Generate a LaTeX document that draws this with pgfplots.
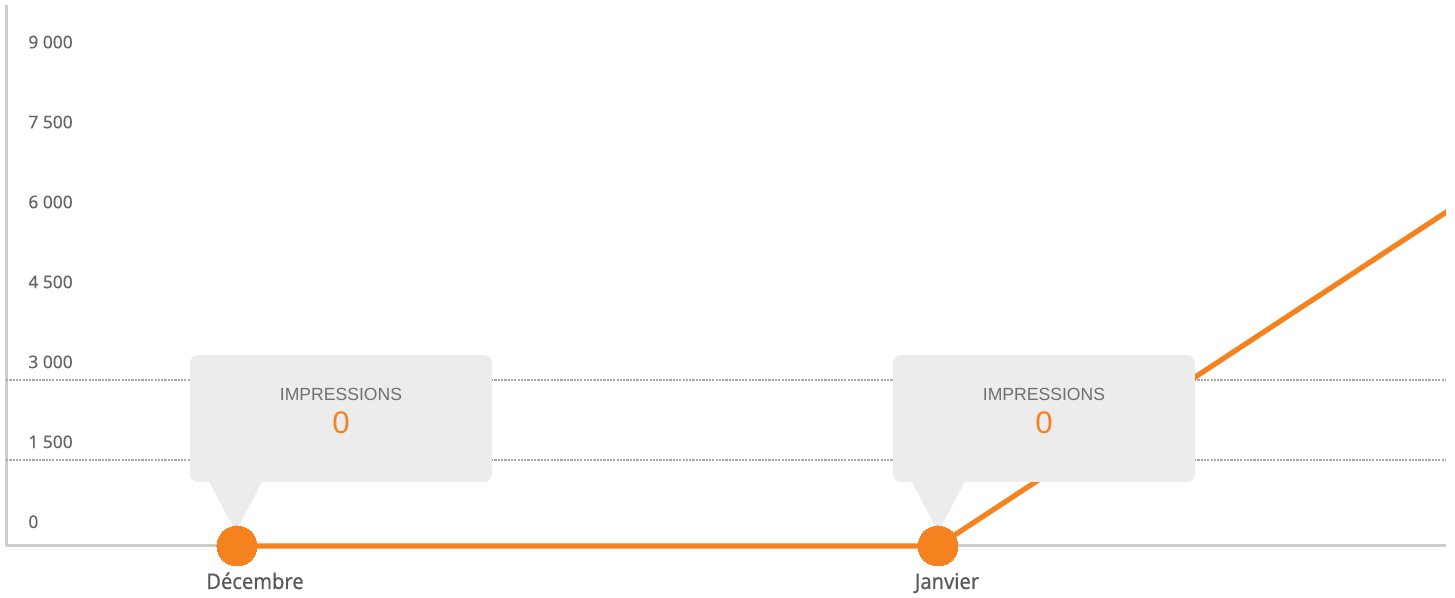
\documentclass[border=0pt]{standalone}
\usepackage{fontspec}
\setmainfont{Noto Sans}
\newfontfamily\arialfont{Liberation Sans}
\newfontfamily\labfont[FakeBold=0.5, FakeStretch=0.93]{Noto Sans}
\newfontfamily\tickfont[FakeBold=0.2]{Noto Sans}
\usepackage{pgfplots}
\pgfplotsset{compat=1.18}
\definecolor{orangeline}{HTML}{F5821F}
\definecolor{axisgray}{HTML}{CCCCCC}
\definecolor{gridgray}{HTML}{A8A8A8}
\definecolor{tipfill}{HTML}{ECECEC}
\definecolor{ticktext}{HTML}{666666}
\definecolor{labeltext}{HTML}{5A5A5A}
\definecolor{tiptext}{HTML}{707070}
\begin{document}
\begin{tikzpicture}
\useasboundingbox (-3pt,-26pt) rectangle (724.5pt,273pt);
\clip (-3pt,-26pt) rectangle (720pt,273pt);
\begin{axis}[
  at={(0,0)}, anchor=south west,
  scale only axis, width=720pt, height=270.5pt,
  xmin=-0.3295, xmax=1.7247,
  ymin=0, ymax=10150,
  clip=false,
  axis x line*=bottom, axis y line*=left,
  axis line style={axisgray, line width=1.5pt, -},
  major tick length=0pt,
  xtick={0,1}, xticklabels={\hspace*{18pt}Décembre,\hspace*{9pt}Janvier},
  xticklabel style={font=\labfont\fontsize{10.8}{12}\selectfont, text=labeltext, anchor=base, inner sep=0pt, yshift=-21.5pt},
  ytick={0,1500,3000,4500,6000,7500,9000},
  scaled y ticks=false,
  yticklabel style={font=\tickfont\fontsize{8.7}{10}\selectfont, text=ticktext, anchor=base west, inner sep=0pt, xshift=11pt, yshift=9pt},
  /pgf/number format/1000 sep={\ },
  /pgf/number format/assume math mode=true,
  extra y ticks={1500,3000},
  extra y tick labels={},
  extra y tick style={grid=major, major grid style={gridgray, line width=1pt, dash pattern=on 1.1pt off 0.55pt, yshift=3pt}},
]
\addplot[orangeline, line width=2.6pt, mark=*, mark size=10pt,
  mark options={fill=orangeline, draw=none, line width=0pt}, mark indices={1,2}]
  coordinates {(0,0) (1,0) (2,8640)};

% tooltips
\fill[tipfill, rounded corners=4pt, shift={(axis cs:0,0)}] (-23.5pt,32pt) rectangle (127.5pt,95.5pt);
\fill[tipfill, shift={(axis cs:0,0)}] (-14.5pt,33pt) -- (13pt,33pt) -- (-0.5pt,7pt) -- cycle;
\node[font=\arialfont\fontsize{8.8}{10}\selectfont, text=tiptext, inner sep=0pt] at ([shift={(52pt,76pt)}]axis cs:0,0) {IMPRESSIONS};
\node[font=\arialfont\fontsize{15.6}{18}\selectfont, text=orangeline, inner sep=0pt] at ([shift={(52pt,61.5pt)}]axis cs:0,0) {0};

\fill[tipfill, rounded corners=4pt, shift={(axis cs:1,0)}] (-22.5pt,32pt) rectangle (128.5pt,95.5pt);
\fill[tipfill, shift={(axis cs:1,0)}] (-13.5pt,33pt) -- (14pt,33pt) -- (0pt,7pt) -- cycle;
\node[font=\arialfont\fontsize{8.8}{10}\selectfont, text=tiptext, inner sep=0pt] at ([shift={(53pt,76pt)}]axis cs:1,0) {IMPRESSIONS};
\node[font=\arialfont\fontsize{15.6}{18}\selectfont, text=orangeline, inner sep=0pt] at ([shift={(53pt,61.5pt)}]axis cs:1,0) {0};
\end{axis}
\end{tikzpicture}
\end{document}
